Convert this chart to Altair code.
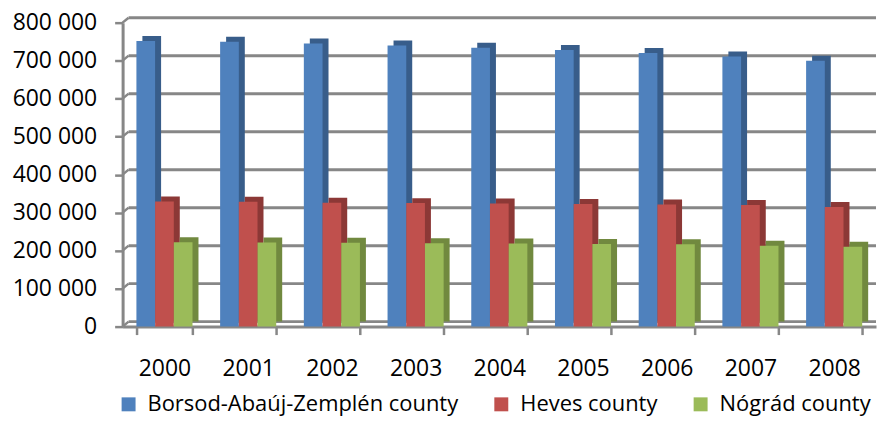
import altair as alt
import pandas as pd

years = ["2000", "2001", "2002", "2003", "2004", "2005", "2006", "2007", "2008"]
series = ["Borsod-Abaúj-Zemplén county", "Heves county", "Nógrád county"]
borsod = [752000, 750000, 745000, 740000, 734000, 728000, 720000, 711000, 700000]
heves = [329000, 328500, 326000, 325000, 324000, 322500, 321500, 320000, 315000]
nograd = [222000, 221500, 221000, 219500, 218500, 217500, 216500, 213000, 210500]
y_ticks = [0, 100000, 200000, 300000, 400000, 500000, 600000, 700000, 800000]

front_colors = ["#4F81BD", "#C0504D", "#9BBB59"]
side_colors = ["#385D8A", "#8C3836", "#71893F"]

rows = []
for name, vals in zip(series, [borsod, heves, nograd]):
    for yr, v in zip(years, vals):
        rows.append({"year": yr, "county": name, "value": v})
df = pd.DataFrame(rows)
grid_df = pd.DataFrame({"tick": y_ticks})

W, H = 756, 305
BAND = W / len(years) * 0.67
FONT = "Open Sans"
GRAY = "#878787"

yscale = alt.Scale(domain=[0, 800000])
yaxis = alt.Axis(
    title=None, values=y_ticks, grid=False,
    labelExpr="replace(format(datum.value, ','), ',', ' ')",
    labelFont=FONT, labelFontSize=23, labelColor="#000000",
    labelPadding=18, tickSize=8, tickColor=GRAY, tickWidth=2.5,
    domainColor=GRAY, domainWidth=3,
)
xaxis = alt.Axis(
    title=None, labelAngle=0, tickBand="extent",
    labelFont=FONT, labelFontSize=23, labelColor="#000000",
    labelPadding=23, tickSize=8, tickColor=GRAY, tickWidth=2.5,
    domainColor=GRAY, domainWidth=3,
)
xenc = alt.X("year:N", sort=years, scale=alt.Scale(paddingInner=0.33, paddingOuter=0.165), axis=xaxis)

grid = alt.Chart(grid_df).mark_rule(color=GRAY, strokeWidth=3, yOffset=-5).encode(
    y=alt.Y("tick:Q", scale=yscale, axis=yaxis),
    x=alt.value(6), x2=alt.value(W),
)
connectors = alt.Chart(grid_df).mark_rule(color=GRAY, strokeWidth=2.5, y2Offset=-5).encode(
    y=alt.Y("tick:Q", scale=yscale, axis=yaxis),
    y2="tick:Q",
    x=alt.value(0), x2=alt.value(6),
)
side = alt.Chart(df).mark_bar(yOffset=-5).encode(
    x=xenc,
    xOffset=alt.XOffset("county:N", sort=series, scale=alt.Scale(range=[6, 6 + BAND])),
    y=alt.Y("value:Q", scale=yscale, axis=yaxis),
    color=alt.Color("county:N", sort=series,
                    scale=alt.Scale(domain=series, range=side_colors), legend=None),
)
front = alt.Chart(df).mark_bar().encode(
    x=xenc,
    xOffset=alt.XOffset("county:N", sort=series, scale=alt.Scale(range=[0, BAND])),
    y=alt.Y("value:Q", scale=yscale, axis=yaxis),
    color=alt.Color("county:N", sort=series,
                    scale=alt.Scale(domain=series, range=front_colors),
                    legend=alt.Legend(
                        title=None, orient="none", direction="horizontal",
                        legendX=-5, legendY=372, padding=0,
                        symbolType="square", symbolSize=196, symbolStrokeWidth=0,
                        labelFont=FONT, labelFontSize=22, labelColor="#000000",
                        labelLimit=0, columnPadding=32, labelOffset=8,
                    )),
)

chart = alt.layer(grid, connectors, side, front).resolve_scale(
    color="independent", xOffset="independent"
).properties(
    width=W, height=H,
    padding={"left": 4, "top": 3, "right": 0, "bottom": 0},
).configure_view(stroke=None)

chart.save("out.html", embed_options={"renderer": "svg", "actions": False})
